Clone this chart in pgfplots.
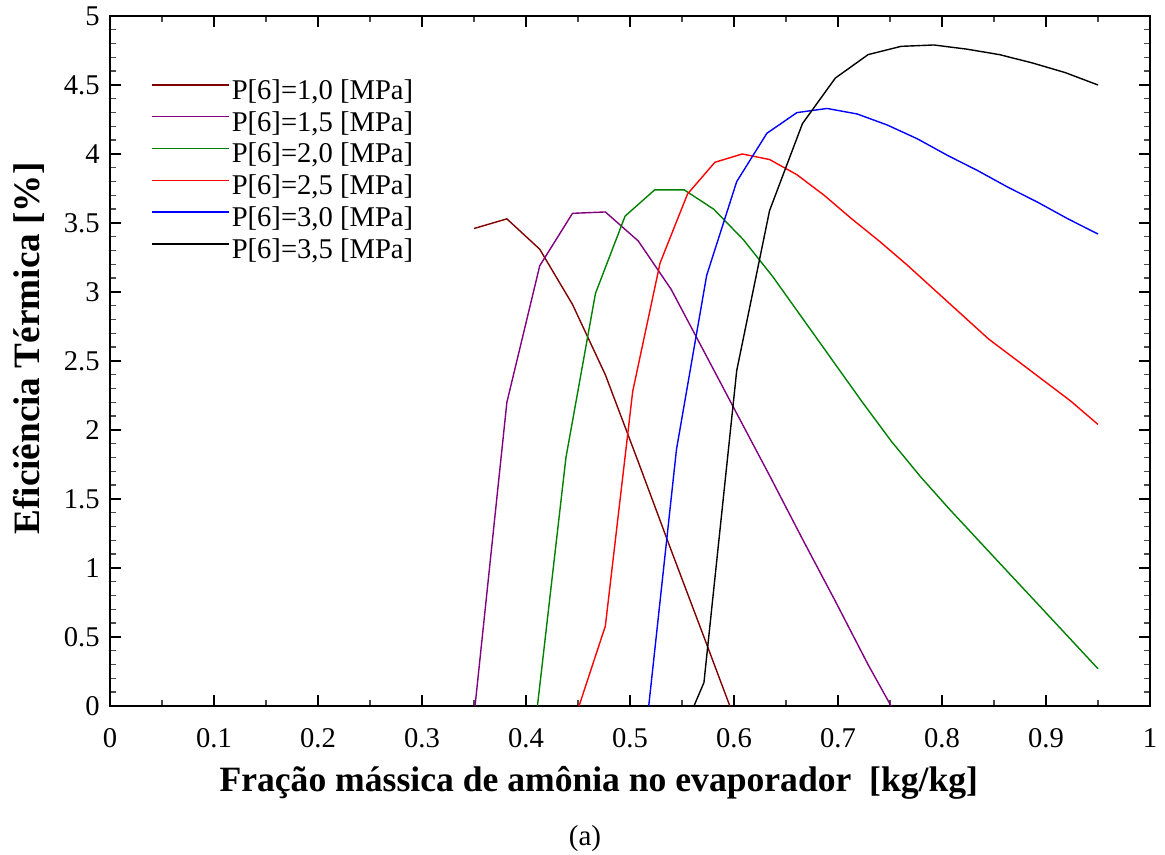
\documentclass[border=0pt]{standalone}
\usepackage{fontspec}
\setmainfont{Liberation Serif}
\usepackage{pgfplots}
\pgfplotsset{compat=1.18}
\definecolor{cmaroon}{RGB}{128,0,0}
\definecolor{cpurple}{RGB}{128,0,128}
\definecolor{cgreen}{RGB}{0,128,0}
\begin{document}
\begin{tikzpicture}
\useasboundingbox (0,0) rectangle (582.5bp,427.5bp);
\begin{axis}[
  at={(55bp,74.5bp)}, anchor=south west,
  scale only axis, width=520bp, height=345bp,
  xmin=0, xmax=1, ymin=0, ymax=5,
  xtick={0,0.1,0.2,0.3,0.4,0.5,0.6,0.7,0.8,0.9,1},
  ytick={0,0.5,1,1.5,2,2.5,3,3.5,4,4.5,5},
  minor x tick num=1, minor y tick num=4,
  tick align=inside, xtick pos=both, ytick pos=both,
  xticklabel pos=bottom, yticklabel pos=left,
  major tick length=5.5bp, minor tick length=3bp,
  every major tick/.append style={line width=0.9bp, black},
  every minor tick/.append style={line width=0.7bp, black!70},
  axis line style={line width=1.1bp},
  tick label style={font=\fontsize{14.3bp}{17bp}\selectfont},
  /pgf/number format/assume math mode=true,
  xticklabel style={anchor=base, inner sep=0pt, yshift=-20.65bp},
  yticklabel style={anchor=east, inner sep=0pt, xshift=-5bp},
  xlabel={Fração mássica de amônia no evaporador\ \ [kg/kg]},
  xlabel style={at={(axis description cs:0.470,-0.1242)}, anchor=base, inner sep=0pt,
    font=\bfseries\fontsize{17.8bp}{21bp}\selectfont},
  ylabel={Eficiência Térmica [\%]},
  ylabel style={at={(axis description cs:-0.0779,0.518)}, anchor=center, inner sep=0pt,
    font=\bfseries\fontsize{18.6bp}{22bp}\selectfont},
  legend style={draw=none, fill=none, at={(0.0394,0.9087)}, anchor=north west,
    inner sep=0pt, row sep=4.5bp, column sep=1bp,
    font=\fontsize{14.3bp}{17bp}\selectfont, nodes={inner sep=0pt}},
  legend cell align=left,
  legend image code/.code={\draw[#1, line width=0.7bp] (0bp,3bp) -- (38.5bp,3bp);},
]
\addplot[cmaroon, line width=0.7bp, mark=none] coordinates {
(0.35,3.46) (0.3816,3.53) (0.4132,3.31) (0.4447,2.91) (0.4763,2.40) (0.5079,1.77) (0.5395,1.13) (0.5711,0.50) (0.596,0)};
\addlegendentry{P[6]=1,0 [MPa]}
\addplot[cpurple, line width=0.7bp, mark=none] coordinates {
(0.351,0) (0.3816,2.2) (0.4132,3.19) (0.4447,3.57) (0.4763,3.58) (0.5079,3.37) (0.5395,3.02) (0.5711,2.57) (0.6026,2.12) (0.6342,1.67) (0.6658,1.21) (0.6974,0.76) (0.7289,0.30) (0.751,0)};
\addlegendentry{P[6]=1,5 [MPa]}
\addplot[cgreen, line width=0.7bp, mark=none] coordinates {
(0.411,0) (0.4384,1.80) (0.4668,2.99) (0.4953,3.55) (0.5237,3.74) (0.5521,3.74) (0.5805,3.60) (0.6089,3.38) (0.6374,3.11) (0.6658,2.81) (0.6942,2.51) (0.7226,2.21) (0.7511,1.92) (0.7795,1.66) (0.8079,1.42) (0.8363,1.19) (0.8647,0.96) (0.8932,0.73) (0.9216,0.50) (0.95,0.27)};
\addlegendentry{P[6]=2,0 [MPa]}
\addplot[red, line width=0.7bp, mark=none] coordinates {
(0.451,0) (0.4763,0.58) (0.5026,2.28) (0.5289,3.21) (0.5553,3.71) (0.5816,3.94) (0.6079,4.00) (0.6342,3.96) (0.6605,3.85) (0.6868,3.70) (0.7132,3.53) (0.7395,3.37) (0.7658,3.20) (0.7921,3.02) (0.8184,2.84) (0.8447,2.66) (0.8711,2.51) (0.8974,2.36) (0.9237,2.21) (0.95,2.04)};
\addlegendentry{P[6]=2,5 [MPa]}
\addplot[blue, line width=0.7bp, mark=none] coordinates {
(0.518,0) (0.5447,1.86) (0.5737,3.12) (0.6026,3.80) (0.6316,4.15) (0.6605,4.30) (0.6895,4.33) (0.7184,4.29) (0.7474,4.21) (0.7763,4.11) (0.8053,3.99) (0.8342,3.88) (0.8632,3.76) (0.8921,3.65) (0.9211,3.53) (0.95,3.42)};
\addlegendentry{P[6]=3,0 [MPa]}
\addplot[black, line width=0.7bp, mark=none] coordinates {
(0.5615,0) (0.5711,0.17) (0.6026,2.43) (0.6342,3.59) (0.6658,4.22) (0.6974,4.55) (0.7289,4.72) (0.7605,4.78) (0.7921,4.79) (0.8237,4.76) (0.8553,4.72) (0.8868,4.66) (0.9184,4.59) (0.95,4.50)};
\addlegendentry{P[6]=3,5 [MPa]}
\end{axis}
\node[font=\fontsize{14.5bp}{17bp}\selectfont, anchor=base, inner sep=0pt] at (292.5bp,5bp) {(a)};
\end{tikzpicture}
\end{document}
